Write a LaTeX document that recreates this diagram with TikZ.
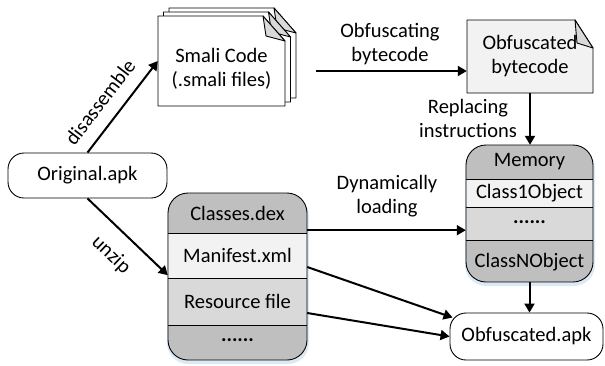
\documentclass[tikz,border=0pt]{standalone}
\usepackage{fontspec}
\setmainfont{Carlito}
\usetikzlibrary{arrows.meta}
\definecolor{dk}{HTML}{BFBFBF}
\definecolor{md}{HTML}{D9D9D9}
\definecolor{lt}{HTML}{F2F2F2}
\definecolor{glow}{HTML}{9DC3E6}
\newcommand\smalipage{%
  \draw[fill=white, line width=0.9pt, line join=round] (158,16) -- (263,16) -- (285,41) -- (285,106) -- (158,106) -- cycle;
  \draw[fill=md, line width=0.9pt, line join=round] (263,16) -- (285,41) -- (266,36) -- cycle;}
\begin{document}
\begin{tikzpicture}[x=1pt,y=-1pt,
  font=\fontsize{20.5}{24}\selectfont,
  arr/.style={line width=2pt,-{Triangle[length=9pt,width=10pt]}},
  bx/.style={draw,line width=0.9pt},
  lbl/.style={align=center,inner sep=0pt},
  rowbox/.style={inner sep=0pt,minimum width=139pt},
  memrow/.style={inner sep=0pt,minimum width=127pt}]
\useasboundingbox (0,0) rectangle (605,365);

% Original.apk
\node[bx, rounded corners=16pt, minimum width=159pt, minimum height=45pt] (orig) at (87.5,175.5) {Original.apk};

% Smali pages
\begin{scope}[shift={(11,-8)}]\smalipage\end{scope}
\begin{scope}[shift={(5.5,-4)}]\smalipage\end{scope}
\smalipage
\node[inner sep=0pt, minimum width=127pt, minimum height=90pt] (smali) at (221.5,61) {};
\node[lbl] (smalitxt) at (221.5,69) {Smali Code\\(.smali files)};

% Obfuscated bytecode
\draw[fill=lt, line width=0.9pt, line join=round] (467,20) -- (575,20) -- (593,48) -- (593,93) -- (467,93) -- cycle;
\draw[fill=md, line width=0.9pt, line join=round] (575,20) -- (593,48) -- (577,43) -- cycle;
\node[inner sep=0pt, minimum width=126pt, minimum height=73pt] (obc) at (530,56.5) {};
\node[lbl] (obctxt) at (530,56) {Obfuscated\\bytecode};

% Memory
\fill[glow, opacity=0.35, rounded corners=21pt] (465,148) rectangle (595,286);
\begin{scope}
\clip[rounded corners=20pt] (466,145) rectangle (593,282);
\fill[dk] (466,145) rectangle (593,179);
\fill[lt] (466,179) rectangle (593,207);
\fill[md] (466,207) rectangle (593,240);
\fill[dk] (466,240) rectangle (593,282);
\end{scope}
\draw[line width=0.9pt] (466,179) -- (593,179) (466,207) -- (593,207) (466,240) -- (593,240);
\draw[bx, rounded corners=20pt] (466,145) rectangle (593,282);
\node[inner sep=0pt, minimum width=127pt, minimum height=137pt] (mem) at (529.5,213.5) {};
\node[memrow] (memh) at (529.5,162) {Memory};
\node[memrow] (c1) at (529.5,193) {Class1Object};
\node[memrow] (mdots) at (529.5,222) {\textbf{......}};
\node[memrow] (cn) at (529.5,262) {ClassNObject};

% Classes.dex
\fill[glow, opacity=0.35, rounded corners=21pt] (167,196) rectangle (309,364);
\begin{scope}
\clip[rounded corners=20pt] (168,193) rectangle (307,360);
\fill[dk] (168,193) rectangle (307,233);
\fill[lt] (168,233) rectangle (307,278);
\fill[md] (168,278) rectangle (307,325);
\fill[dk] (168,325) rectangle (307,360);
\end{scope}
\draw[line width=0.9pt] (168,233) -- (307,233) (168,278) -- (307,278) (168,325) -- (307,325);
\draw[bx, rounded corners=20pt] (168,193) rectangle (307,360);
\node[rowbox, minimum height=40pt] (cdex) at (237.5,213) {Classes.dex};
\node[rowbox, minimum height=45pt] (man) at (237.5,255.5) {Manifest.xml};
\node[rowbox, minimum height=47pt] (res) at (237.5,301.5) {Resource file};
\node[rowbox, minimum height=35pt] (ddots) at (237.5,340.5) {\textbf{......}};

% Obfuscated.apk
\node[bx, rounded corners=16pt, minimum width=153pt, minimum height=47pt] (oapk) at (526.5,336.5) {Obfuscated.apk};

% Labels
\node[lbl, rotate=52.5] (ldis) at (100,102) {disassemble};
\node[lbl, rotate=-43.7] (lunz) at (111,255) {unzip};
\node[lbl] (lobf) at (390,44) {Obfuscating\\bytecode};
\node[lbl] (lrep) at (468,118) {Replacing\\instructions};
\node[lbl] (ldyn) at (387,196) {Dynamically\\loading};

% Connectors
\draw[arr] (orig.north) -- (smali.west);
\draw[arr] (orig.south) -- ([yshift=3pt]man.south west);
\coordinate (s1) at (316,71);
\draw[arr] (s1) -- (s1 -| obc.west);
\draw[arr] (obc.south) -- (obc.south |- mem.north);
\draw[arr] ([yshift=3pt]cdex.south east) -- ([yshift=3pt]cdex.south east -| mem.west);
\draw[arr] ([yshift=-11.5pt]man.east) -- ([xshift=3pt,yshift=-5pt]oapk.north west);
\draw[arr] ([yshift=-11.5pt]res.east) -- (oapk.west);
\draw[arr] (mem.south) -- (mem.south |- oapk.north);
\end{tikzpicture}
\end{document}
